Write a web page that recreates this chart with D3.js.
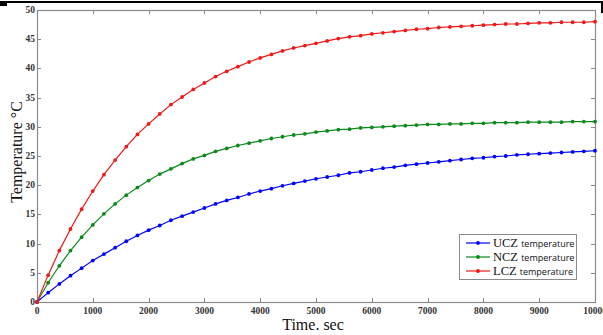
<!DOCTYPE html>
<html>
<head>
<meta charset="utf-8">
<script src="https://cdn.jsdelivr.net/npm/d3@7"></script>
<style>
  body { margin: 0; background: #fff; }
  svg { display: block; }
</style>
</head>
<body>
<div id="chart"></div>
<script>
// time grid (sec) – one marker every 200 s
const times = [
  0, 200, 400, 600, 800, 1000, 1200, 1400, 1600, 1800,
  2000, 2200, 2400, 2600, 2800, 3000, 3200, 3400, 3600, 3800,
  4000, 4200, 4400, 4600, 4800, 5000, 5200, 5400, 5600, 5800,
  6000, 6200, 6400, 6600, 6800, 7000, 7200, 7400, 7600, 7800,
  8000, 8200, 8400, 8600, 8800, 9000, 9200, 9400, 9600, 9800, 10000
]

const ucz = [
  0, 1.6, 3.1, 4.5, 5.8, 7.1, 8.2, 9.3, 10.4, 11.4,
  12.3, 13.1, 14.0, 14.7, 15.4, 16.1, 16.8, 17.4, 17.9, 18.5,
  19.0, 19.4, 19.9, 20.3, 20.7, 21.1, 21.4, 21.7, 22.1, 22.3,
  22.6, 22.9, 23.1, 23.4, 23.6, 23.8, 24.0, 24.2, 24.4, 24.6,
  24.7, 24.9, 25.0, 25.2, 25.3, 25.4, 25.5, 25.6, 25.7, 25.8, 25.9
]

const ncz = [
  0, 3.3, 6.2, 8.8, 11.1, 13.2, 15.1, 16.8, 18.3, 19.6,
  20.8, 21.9, 22.8, 23.7, 24.5, 25.1, 25.8, 26.3, 26.8, 27.2,
  27.6, 28.0, 28.3, 28.6, 28.8, 29.1, 29.3, 29.5, 29.6, 29.8,
  29.9, 30.0, 30.1, 30.2, 30.3, 30.4, 30.4, 30.5, 30.5, 30.6,
  30.6, 30.7, 30.7, 30.7, 30.8, 30.8, 30.8, 30.8, 30.9, 30.9, 30.9
]

const lcz = [
  0, 4.6, 8.8, 12.5, 15.9, 19.0, 21.8, 24.3, 26.6, 28.7,
  30.5, 32.2, 33.8, 35.1, 36.4, 37.5, 38.6, 39.5, 40.3, 41.1,
  41.8, 42.4, 43.0, 43.5, 43.9, 44.3, 44.7, 45.1, 45.4, 45.6,
  45.9, 46.1, 46.3, 46.5, 46.7, 46.8, 47.0, 47.1, 47.2, 47.3,
  47.4, 47.5, 47.6, 47.6, 47.7, 47.8, 47.8, 47.9, 47.9, 47.9, 48.0
]

const seriesNames = ['UCZ', 'NCZ', 'LCZ']
const seriesColors = ['#0000ff', '#0b8a1a', '#f01818']

const xTicks = [0, 1000, 2000, 3000, 4000, 5000, 6000, 7000, 8000, 9000, 10000]
const yTicks = [0, 5, 10, 15, 20, 25, 30, 35, 40, 45, 50]

const W = 603
const H = 335
const margin = { top: 10, left: 37, right: 8, bottom: 33 }
const width = W - margin.left - margin.right
const height = H - margin.top - margin.bottom

const svg = d3
  .select('#chart')
  .append('svg')
  .attr('width', W)
  .attr('height', H)

// black page border bits along the top edge
svg.append('rect').attr('x', 0).attr('y', 1).attr('width', W).attr('height', 2).attr('fill', '#000')
svg.append('rect').attr('x', 0).attr('y', 2).attr('width', 7).attr('height', 4).attr('fill', '#000')
svg.append('rect').attr('x', W - 2).attr('y', 1).attr('width', 2).attr('height', 12).attr('fill', '#000')

const g = svg.append('g').attr('transform', `translate(${margin.left},${margin.top})`)

const x = d3.scaleLinear().domain([0, 10000]).range([0, width])
const y = d3.scaleLinear().domain([0, 50]).range([height, 0])

const frameColor = '#8a8a8a'
const tickLen = 4

// ticks on all four sides, pointing inward
const ticks = g.append('g').attr('stroke', frameColor).attr('stroke-width', 1)
xTicks.forEach(t => {
  ticks.append('line')
    .attr('x1', Math.round(x(t)) + 0.5).attr('x2', Math.round(x(t)) + 0.5)
    .attr('y1', height).attr('y2', height - tickLen)
  ticks.append('line')
    .attr('x1', Math.round(x(t)) + 0.5).attr('x2', Math.round(x(t)) + 0.5)
    .attr('y1', 0).attr('y2', tickLen)
})
yTicks.forEach(t => {
  ticks.append('line')
    .attr('y1', Math.round(y(t)) + 0.5).attr('y2', Math.round(y(t)) + 0.5)
    .attr('x1', 0).attr('x2', tickLen)
  ticks.append('line')
    .attr('y1', Math.round(y(t)) + 0.5).attr('y2', Math.round(y(t)) + 0.5)
    .attr('x1', width).attr('x2', width - tickLen)
})

g.append('rect')
  .attr('x', 0.5).attr('y', 0.5)
  .attr('width', width).attr('height', height)
  .attr('fill', 'none')
  .attr('stroke', frameColor)
  .attr('stroke-width', 1.2)

// tick labels
const labelFont = '"Liberation Serif", "Times New Roman", serif'
g.selectAll('.xlab')
  .data(xTicks)
  .enter()
  .append('text')
  .attr('class', 'xlab')
  .attr('x', d => x(d))
  .attr('y', height + 12)
  .attr('text-anchor', 'middle')
  .style('font-family', labelFont)
  .style('font-size', '9.5px')
  .style('font-weight', 'bold')
  .attr('fill', '#333')
  .text(d => d)

g.selectAll('.ylab')
  .data(yTicks)
  .enter()
  .append('text')
  .attr('class', 'ylab')
  .attr('x', -2)
  .attr('y', d => y(d) + 3)
  .attr('text-anchor', 'end')
  .style('font-family', labelFont)
  .style('font-size', '9.5px')
  .style('font-weight', 'bold')
  .attr('fill', '#333')
  .text(d => d)

// axis titles
svg.append('text')
  .attr('x', 313)
  .attr('y', 330)
  .attr('text-anchor', 'middle')
  .style('font-family', labelFont)
  .style('font-size', '16px')
  .attr('fill', '#111')
  .text('Time. sec')

svg.append('text')
  .attr('transform', 'translate(22,152) rotate(-90)')
  .attr('text-anchor', 'middle')
  .style('font-family', labelFont)
  .style('font-size', '16px')
  .attr('fill', '#111')
  .text('Temperature °C')

// series
const allSeries = [ucz, ncz, lcz]
const line = d3
  .line()
  .x((d, i) => x(times[i]))
  .y(d => y(d))

allSeries.forEach((vals, si) => {
  const color = seriesColors[si]
  g.append('path')
    .datum(vals)
    .attr('d', line)
    .attr('fill', 'none')
    .attr('stroke', color)
    .attr('stroke-width', 1.2)

  g.selectAll('.pt' + si)
    .data(vals)
    .enter()
    .append('circle')
    .attr('cx', (d, i) => x(times[i]))
    .attr('cy', d => y(d))
    .attr('r', 1.9)
    .attr('fill', color)
})

// legend
const legend = svg.append('g').attr('transform', 'translate(459,234)')
legend.append('rect')
  .attr('x', 0.5).attr('y', 0.5)
  .attr('width', 117).attr('height', 45)
  .attr('fill', '#fff')
  .attr('stroke', frameColor)
  .attr('stroke-width', 1)

seriesNames.forEach((name, i) => {
  const ly = 9 + i * 14
  legend.append('line')
    .attr('x1', 7).attr('x2', 31)
    .attr('y1', ly).attr('y2', ly)
    .attr('stroke', seriesColors[i])
    .attr('stroke-width', 1.2)
  legend.append('circle')
    .attr('cx', 19).attr('cy', ly).attr('r', 1.9)
    .attr('fill', seriesColors[i])
  const t = legend.append('text')
    .attr('x', 34)
    .attr('y', ly + 4)
    .attr('fill', '#111')
  t.append('tspan')
    .style('font-family', labelFont)
    .style('font-size', '12.5px')
    .text(name + ' ')
  t.append('tspan')
    .style('font-family', '"Open Sans", "DejaVu Sans", sans-serif')
    .style('font-size', '9px')
    .text('temperature')
})
</script>
</body>
</html>
